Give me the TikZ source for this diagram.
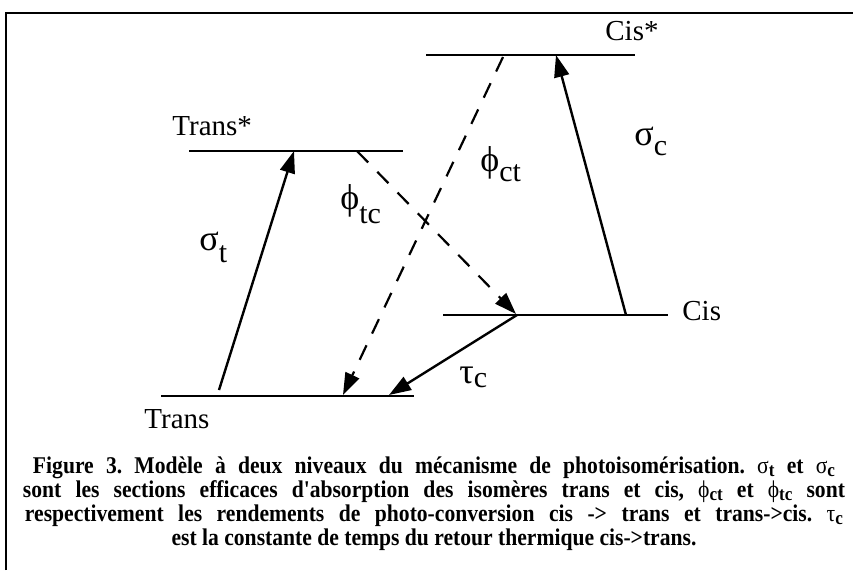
\documentclass[tikz,border=0pt]{standalone}
\usepackage{fontspec}
\setmainfont{Liberation Serif}
\newfontfamily\capfont[FakeStretch=0.9]{Liberation Serif}
\usetikzlibrary{arrows.meta,positioning}
\tikzset{
  >={Triangle[length=11pt,width=7.5pt]},
  level/.style={line width=1pt},
  pump/.style={->,line width=1.2pt},
  yield/.style={->,line width=1.1pt,dash pattern=on 8pt off 6.5pt},
  state/.style={inner sep=0pt,anchor=base west,font=\fontsize{14.5}{16}\selectfont},
  rate/.style={inner sep=0pt,anchor=base west,font=\fontsize{15}{16}\selectfont},
  caption/.style={inner sep=0pt,align=center,font=\capfont\bfseries\fontsize{12}{12}\selectfont\frenchspacing}
}
\newcommand{\gsym}[3][5pt]{{\fontsize{18}{18}\selectfont #2}\raisebox{-#1}{#3}}
\newcommand{\csub}[2]{{\mdseries #1}\raisebox{-1.2pt}{\fontsize{9.5}{9.5}\selectfont #2}}

\begin{document}
\begin{tikzpicture}[x=0.5pt,y=-0.5pt]
  \useasboundingbox (0,0) rectangle (853,570);
  \draw[line width=1pt] (6,570) -- (6,13) -- (853,13);

  % energy levels
  \draw[level] (161,396) coordinate (transL) -- (414,396) coordinate (transR);
  \draw[level] (189,151) coordinate (transSL) -- (403,151) coordinate (transSR);
  \draw[level] (443,315) coordinate (cisL) -- (668,315) coordinate (cisR);
  \draw[level] (426,55) coordinate (cisSL) -- (635,55) coordinate (cisSR);

  \node[state] (transLbl) at (144,428) {Trans};
  \node[state] (transSLbl) at (172,135) {Trans*};
  \node[state] (cisLbl) at (682,320) {Cis};
  \node[state] (cisSLbl) at (605,40) {Cis*};

  % transitions
  \coordinate (st0) at (219,390); \coordinate (st1) at (294,151);
  \coordinate (sc0) at (626,315); \coordinate (sc1) at (556,55);
  \coordinate (ct0) at (503,57);  \coordinate (ct1) at (343,395);
  \coordinate (tc0) at (357,151); \coordinate (tc1) at (516,314);
  \coordinate (tau0) at (517,315); \coordinate (tau1) at (389,395);
  \draw[pump] (st0) -- (st1);
  \draw[pump] (sc0) -- (sc1);
  \draw[yield] (ct0) -- (ct1);
  \draw[yield] (tc0) -- (tc1);
  \draw[pump] (tau0) -- (tau1);

  \node[rate] (sigT) at (199,250) {\gsym[6pt]{σ}{t}};
  \node[rate] (sigC) at (634,145) {\gsym{σ}{c}};
  \node[rate] (phiTC) at (340,209) {\gsym[7pt]{ϕ}{tc}};
  \node[rate] (phiCT) at (480,171) {\gsym[5pt]{ϕ}{ct}};
  \node[rate] (tauC) at (459,383) {\gsym[2pt]{τ}{c}};

  \node[caption] (cap) at (434,504) {%
    \makebox[401pt][s]{Figure 3. Modèle à deux niveaux du mécanisme de photoisomérisation. \csub{σ}{t} et \csub{σ}{c}}\\
    \makebox[411pt][s]{sont les sections efficaces d'absorption des isomères trans et cis, \csub{ϕ}{ct} et \csub{ϕ}{tc} sont}\\
    \makebox[409pt][s]{respectivement les rendements de photo-conversion cis -> trans et trans->cis. \csub{τ}{c}}\\
    est la constante de temps du retour thermique cis->trans.};
\end{tikzpicture}
\end{document}
